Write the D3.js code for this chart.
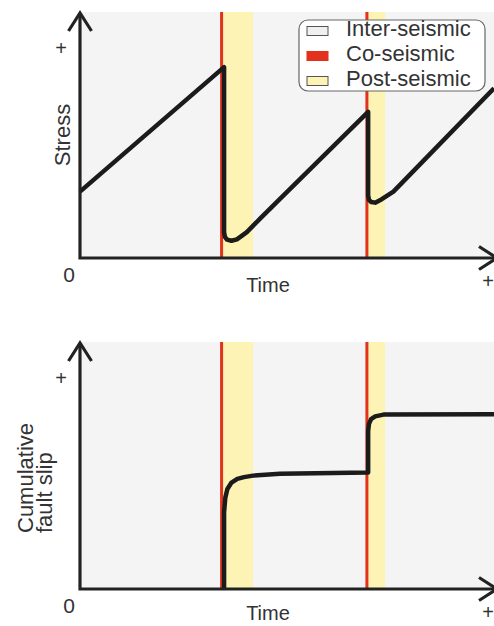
<!DOCTYPE html>
<html>
<head>
<meta charset="utf-8">
<script src="https://cdn.jsdelivr.net/npm/d3@7"></script>
<style>
  body { margin: 0; background: #fff; }
  text { font-family: "Liberation Sans", Arial, sans-serif; fill: #333; }
</style>
</head>
<body>
<div id="chart-area"></div>
<script>
// data (time and values in 0-100 units)
var quakeTimes = [34.2, 69.3];      // co-seismic (red lines)
var postEnds = [41.8, 73.7];        // end of post-seismic (yellow bands)

var stressTime = [0, 34.8, 34.8, 35.0, 35.5, 36.6, 37.9, 40.3, 43.5, 47.7, 69.6, 69.6, 69.8, 70.3, 71.3, 72.9, 75.7, 79.7, 100];
var stressVal  = [27, 77.6, 10.5, 8.6, 7.5, 7.0, 7.6, 10.5, 16, 23, 59.4, 25.5, 23.6, 22.8, 22.5, 23.9, 27, 33.9, 69];

// slip stays at 0 (on the time axis) until the first event
var slipTime = [34.8, 34.8, 35.1, 35.6, 36.6, 38.0, 39.6, 41.8, 48.3, 69.6, 69.6, 69.8, 70.3, 71.3, 73.3, 100];
var slipVal  = [0, 31, 37, 40.5, 43.1, 44.6, 45.3, 45.9, 46.7, 47.2, 64, 66.8, 68.8, 69.9, 70.6, 70.7];

var legendLabels = ["Inter-seismic", "Co-seismic", "Post-seismic"];
var legendColors = ["#f0f0f0", "#e2311d", "#fcf3b4"];

var width = 494, height = 626;

var svg = d3.select("#chart-area")
    .append("svg")
        .attr("width", width)
        .attr("height", height);

var xScale = d3.scaleLinear().domain([0, 100]).range([80, 494]);

// two panels, same layout
var panels = [
    { top: 12, bottom: 258, timeY: 34, times: stressTime, vals: stressVal, label: ["Stress"] },
    { top: 342, bottom: 589, timeY: 31, times: slipTime, vals: slipVal, label: ["Cumulative", "fault slip"] }
];

panels.forEach(function(p) {
    var yScale = d3.scaleLinear().domain([0, 100]).range([p.bottom, p.top]);
    var g = svg.append("g");

    // background
    g.append("rect")
        .attr("x", xScale(0) + 2)
        .attr("y", p.top)
        .attr("width", xScale(100) - xScale(0))
        .attr("height", p.bottom - p.top)
        .attr("fill", "#f4f4f5");

    // post-seismic bands
    g.selectAll(".post")
        .data(quakeTimes)
        .enter().append("rect")
        .attr("class", "post")
        .attr("x", function(d) { return xScale(d); })
        .attr("y", p.top)
        .attr("width", function(d, i) { return xScale(postEnds[i]) - xScale(d); })
        .attr("height", p.bottom - p.top)
        .attr("fill", "#fcf3b4");

    // co-seismic lines
    g.selectAll(".co")
        .data(quakeTimes)
        .enter().append("line")
        .attr("class", "co")
        .attr("x1", function(d) { return xScale(d); })
        .attr("x2", function(d) { return xScale(d); })
        .attr("y1", p.top)
        .attr("y2", p.bottom)
        .attr("stroke", "#e2311d")
        .attr("stroke-width", 3);

    // curve
    var pts = p.times.map(function(t, i) { return [t, p.vals[i]]; });
    var line = d3.line()
        .x(function(d) { return xScale(d[0]); })
        .y(function(d) { return yScale(d[1]); });
    g.append("path")
        .datum(pts)
        .attr("d", line)
        .attr("fill", "none")
        .attr("stroke", "#1b1b1b")
        .attr("stroke-width", 4.5)
        .attr("stroke-linejoin", "round");

    // axes with arrows
    var x0 = xScale(0), y0 = p.bottom;
    g.append("path")
        .attr("d", "M" + x0 + "," + (p.top + 1) + "V" + y0 + "H" + 494)
        .attr("fill", "none").attr("stroke", "#222").attr("stroke-width", 3.2);
    g.append("path")
        .attr("d", "M" + (x0 - 11.5) + "," + (p.top + 19) + "L" + x0 + "," + (p.top + 1) + "L" + (x0 + 11.5) + "," + (p.top + 19))
        .attr("fill", "none").attr("stroke", "#222").attr("stroke-width", 3.2);
    g.append("path")
        .attr("d", "M" + 479 + "," + (y0 - 11.5) + "L" + 497 + "," + y0 + "L" + 479 + "," + (y0 + 11.5))
        .attr("fill", "none").attr("stroke", "#222").attr("stroke-width", 3.2);

    // axis text
    g.append("text").attr("x", 61).attr("y", p.top + 43)
        .attr("text-anchor", "middle").attr("font-size", "20px").text("+");
    g.append("text").attr("x", 69).attr("y", y0 + 24)
        .attr("text-anchor", "middle").attr("font-size", "21px").text("0");
    g.append("text").attr("x", 268).attr("y", y0 + p.timeY)
        .attr("text-anchor", "middle").attr("font-size", "20px").text("Time");
    g.append("text").attr("x", 488).attr("y", y0 + 30)
        .attr("text-anchor", "middle").attr("font-size", "20px").text("+");

    // y label
    if (p.label.length === 1) {
        g.append("text")
            .attr("transform", "translate(70," + (p.top + 123) + ") rotate(-90)")
            .attr("text-anchor", "middle")
            .attr("font-size", "22px")
            .text(p.label[0]);
    } else {
        p.label.forEach(function(l, i) {
            g.append("text")
                .attr("transform", "translate(" + (33 + i * 19) + "," + (p.top + 191) + ") rotate(-90)")
                .attr("text-anchor", "start")
                .attr("font-size", "22px")
                .text(l);
        });
    }
});

// legend
var legend = svg.append("g");
legend.append("rect")
    .attr("x", 299).attr("y", 20)
    .attr("width", 186).attr("height", 71)
    .attr("rx", 9)
    .attr("fill", "#fff")
    .attr("stroke", "#666")
    .attr("stroke-width", 1.2);

var rows = legend.selectAll(".row")
    .data(legendLabels)
    .enter().append("g")
    .attr("class", "row")
    .attr("transform", function(d, i) { return "translate(0," + (i * 25) + ")"; });

rows.append("rect")
    .attr("x", 307).attr("y", 26.5)
    .attr("width", 21).attr("height", 9)
    .attr("fill", function(d, i) { return legendColors[i]; })
    .attr("stroke", function(d, i) { return i === 1 ? "#e2311d" : "#555"; })
    .attr("stroke-width", 1);

rows.append("text")
    .attr("x", 346).attr("y", 36)
    .attr("font-size", "22px")
    .text(function(d) { return d; });
</script>
</body>
</html>
